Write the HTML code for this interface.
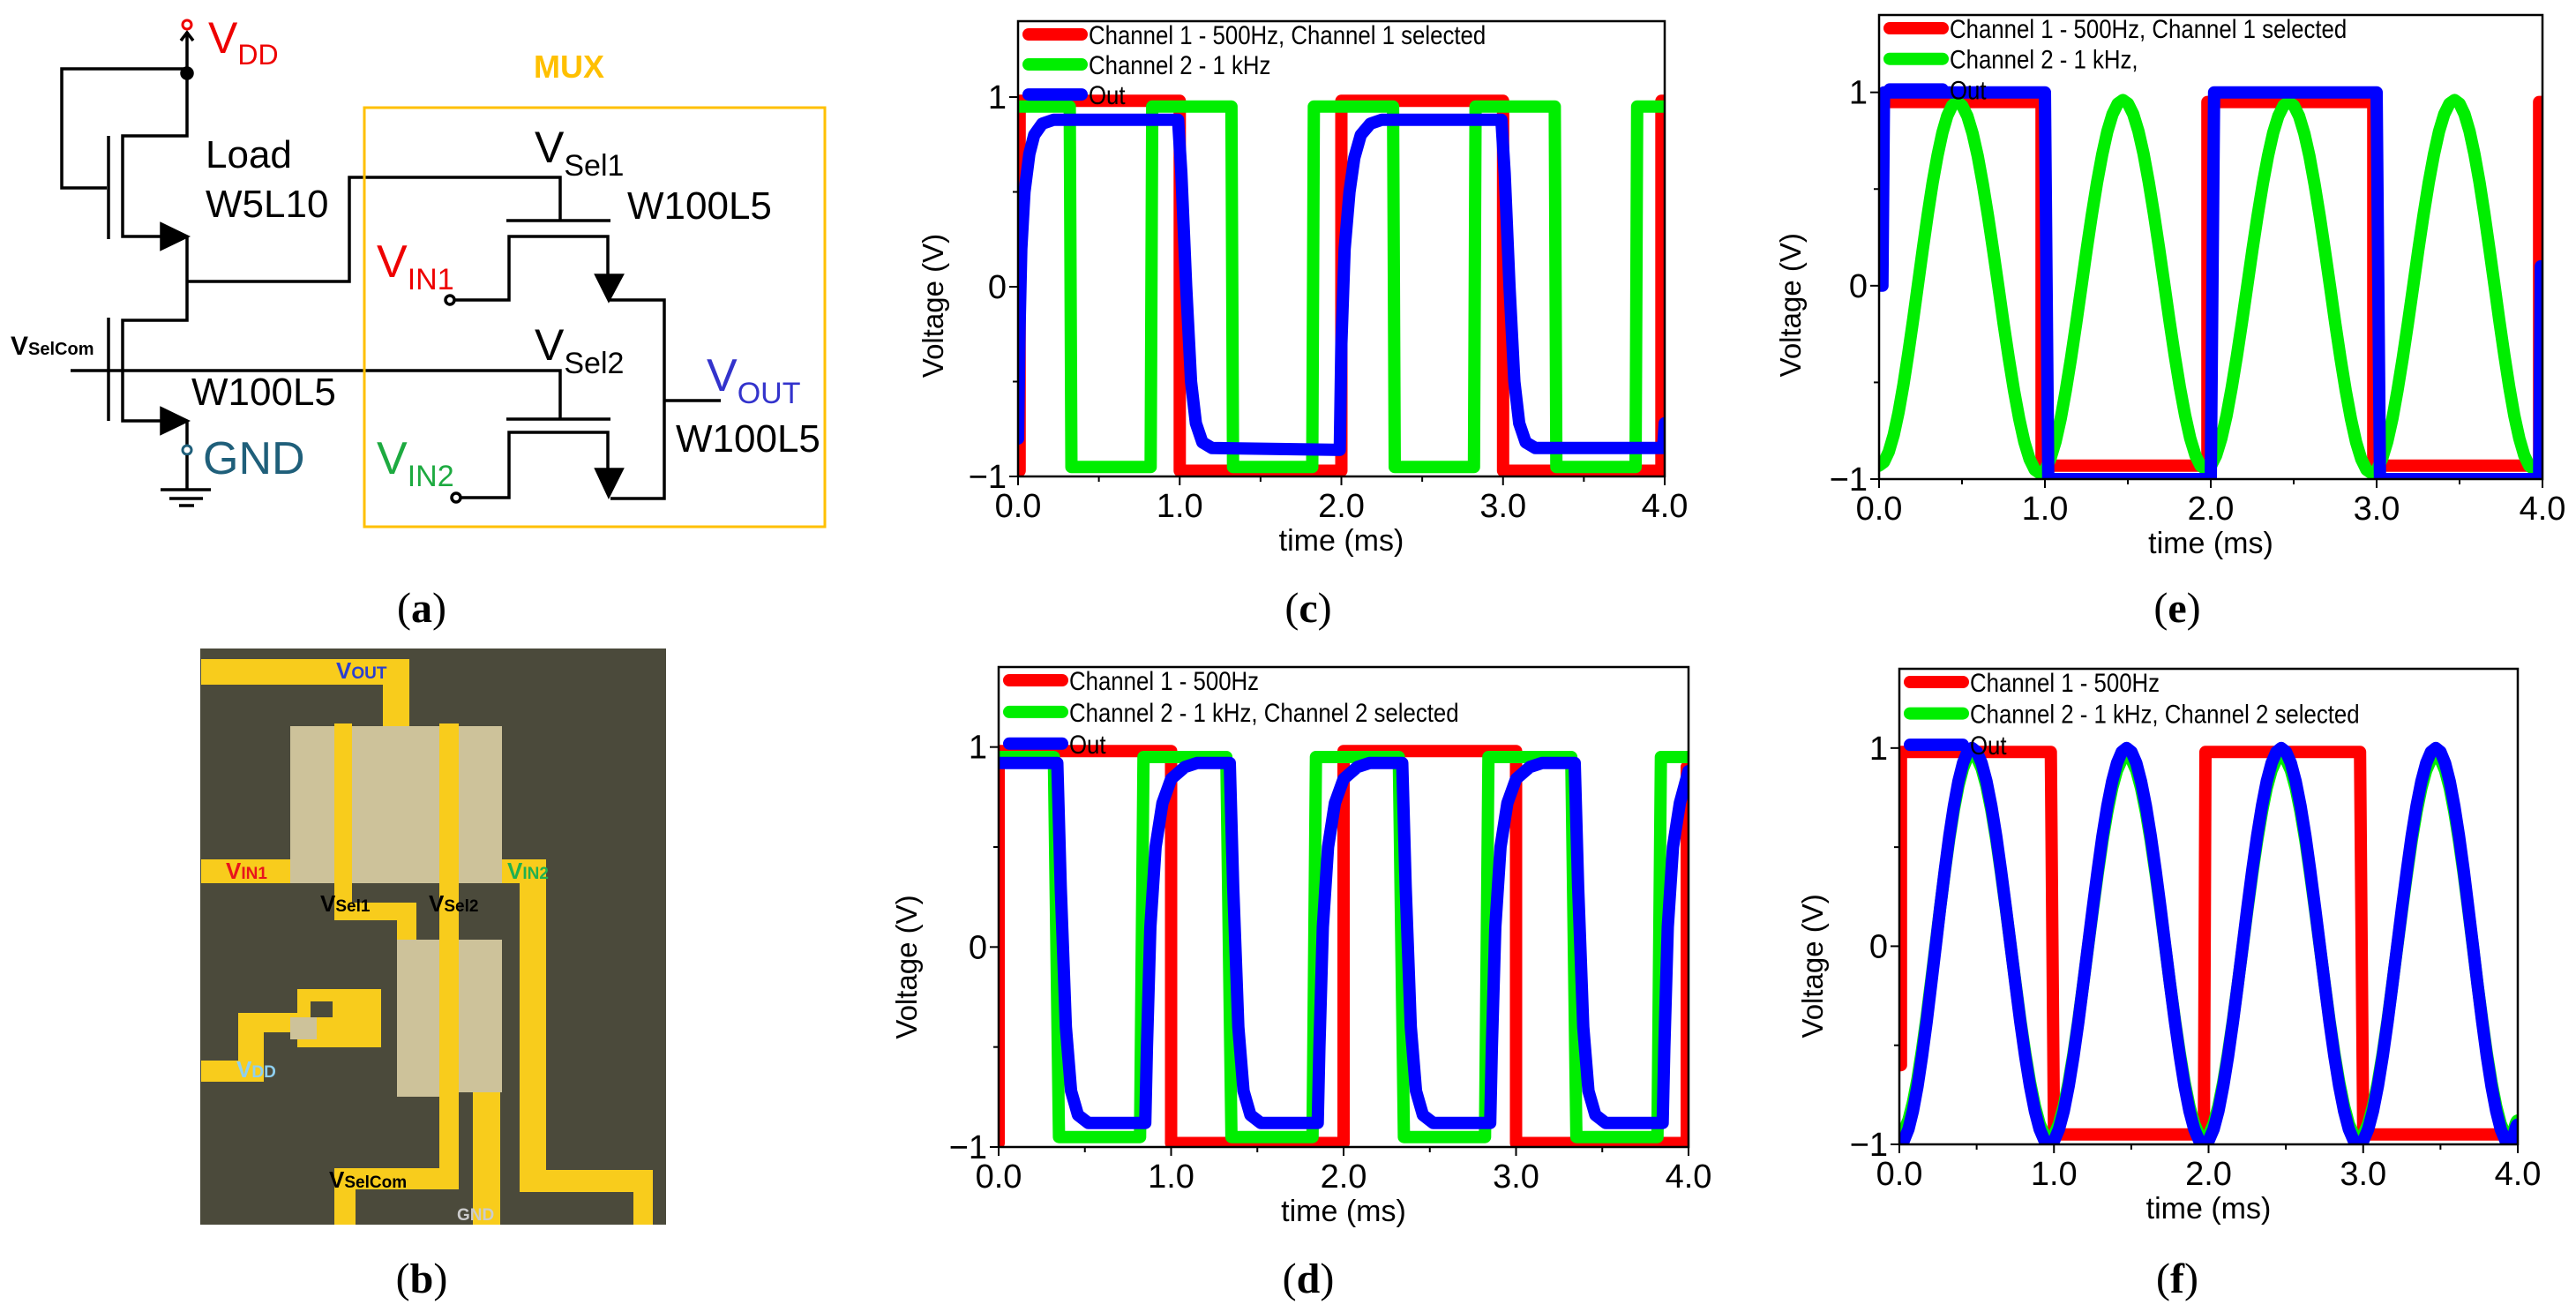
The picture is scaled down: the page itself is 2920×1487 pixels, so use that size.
<!DOCTYPE html>
<html><head><meta charset="utf-8"><style>
html,body{margin:0;padding:0;background:#fff;}
svg{display:block;font-family:"Liberation Sans",sans-serif;}
</style></head><body>
<svg id="fig" width="2920" height="1487" viewBox="0 0 2920 1487" xmlns="http://www.w3.org/2000/svg">
<rect width="2920" height="1487" fill="#fff"/>
<g id="schem" stroke="#000" stroke-width="3.5" fill="none">
  <polyline points="212,83 212,36"/>
  <polyline points="205,46 212,37 219,46"/>
  <circle cx="212" cy="28" r="5" stroke="#e00" stroke-width="3" fill="#fff"/>
  <circle cx="212" cy="83" r="6" fill="#000"/>
  <polyline points="212,78 70,78 70,213 121,213"/>
  <line x1="123" y1="154" x2="123" y2="271"/>
  <polyline points="212,83 212,154 139,154 139,268 190,268"/>
  <polygon points="183,254 212,268 183,282" fill="#000"/>
  <polyline points="212,268 212,363 139,363 139,477 190,477"/>
  <polyline points="212,319 396,319 396,201 635,201 635,250"/>
  <line x1="123" y1="360" x2="123" y2="477"/>
  <polyline points="80,420 635,420 635,475"/>
  <polygon points="183,463 212,477 183,491" fill="#000"/>
  <polyline points="212,477 212,505"/>
  <circle cx="212" cy="510" r="5" stroke="#1f5f7a" stroke-width="3" fill="#fff"/>
  <line x1="212" y1="516" x2="212" y2="555"/>
  <line x1="182" y1="555" x2="239" y2="555"/>
  <line x1="192" y1="565" x2="230" y2="565"/>
  <line x1="203" y1="573" x2="220" y2="573"/>
  <line x1="574" y1="250" x2="692" y2="250"/>
  <polyline points="510,340 577,340 577,268 689,268 689,315"/>
  <polygon points="676,312 705,312 690,340" fill="#000"/>
  <polyline points="690,340 753,340 753,565 692,565"/>
  <line x1="753" y1="454" x2="817" y2="454"/>
  <line x1="574" y1="475" x2="692" y2="475"/>
  <polyline points="517,564 577,564 577,490 689,490 689,535"/>
  <polygon points="676,532 705,532 690,562" fill="#000"/>
  <circle cx="510" cy="340" r="5" fill="#fff"/>
  <circle cx="517" cy="564" r="5" fill="#fff"/>
  <rect x="413" y="122" width="522" height="475" stroke="#ffc000" stroke-width="3"/>
</g>
<g font-family="Liberation Sans, sans-serif">
  <text x="236" y="60" font-size="50" fill="#e00">V<tspan font-size="32" dy="13">DD</tspan></text>
  <text x="605" y="88" font-size="36" font-weight="bold" fill="#ffc000">MUX</text>
  <text x="233" y="190" font-size="44">Load</text>
  <text x="233" y="246" font-size="44">W5L10</text>
  <text x="217" y="459" font-size="44">W100L5</text>
  <text x="12" y="402" font-size="30" font-weight="bold">V<tspan font-size="20">SelCom</tspan></text>
  <text x="606" y="184" font-size="50">V<tspan font-size="34" dy="15">Sel1</tspan></text>
  <text x="711" y="248" font-size="44">W100L5</text>
  <text x="427" y="314" font-size="52" fill="#e00">V<tspan font-size="34" dy="14">IN1</tspan></text>
  <text x="606" y="408" font-size="50">V<tspan font-size="34" dy="15">Sel2</tspan></text>
  <text x="801" y="443" font-size="52" fill="#3333cc">V<tspan font-size="34" dy="14">OUT</tspan></text>
  <text x="766" y="512" font-size="44">W100L5</text>
  <text x="427" y="537" font-size="52" fill="#1daa40">V<tspan font-size="34" dy="14">IN2</tspan></text>
  <text x="230" y="537" font-size="52" fill="#1f5f7a">GND</text>
</g>
<g>
  <rect x="227" y="735" width="528" height="653" fill="#4b4a3b"/>
  <g fill="#f8cc1c">
    <rect x="228" y="747" width="236" height="29"/>
    <rect x="434" y="747" width="30" height="80"/>
    <rect x="228" y="974" width="105" height="27"/>
    <rect x="567" y="974" width="52" height="27"/>
    <rect x="589" y="974" width="30" height="372"/>
    <rect x="589" y="1326" width="151" height="25"/>
    <rect x="718" y="1326" width="22" height="62"/>
    <rect x="379" y="820" width="20" height="218"/>
    <rect x="379" y="1023" width="93" height="20"/>
    <rect x="450" y="1023" width="22" height="49"/>
    <rect x="498" y="820" width="22" height="526"/>
    <rect x="379" y="1324" width="141" height="24"/>
    <rect x="379" y="1324" width="24" height="64"/>
    <rect x="536" y="1238" width="31" height="150"/>
    <rect x="228" y="1202" width="71" height="24"/>
    <rect x="270" y="1148" width="29" height="78"/>
    <rect x="270" y="1148" width="91" height="22"/>
    <rect x="337" y="1121" width="95" height="66"/>
  </g>
  <rect x="352" y="1135" width="25" height="18" fill="#4b4a3b"/>
  <g fill="#cdc29a">
    <rect x="329" y="823" width="50" height="178"/>
    <rect x="399" y="823" width="99" height="178"/>
    <rect x="520" y="823" width="49" height="178"/>
    <rect x="450" y="1065" width="48" height="178"/>
    <rect x="520" y="1065" width="49" height="173"/>
    <rect x="329" y="1153" width="30" height="25"/>
  </g>
  <g fill="#f8cc1c"><rect x="379" y="823" width="20" height="178"/><rect x="498" y="823" width="22" height="420"/></g>
  <g font-weight="bold" font-family="Liberation Sans, sans-serif">
    <text x="381" y="769" font-size="26" fill="#2a3fd0">V<tspan font-size="19">OUT</tspan></text>
    <text x="256" y="996" font-size="26" fill="#e8141c">V<tspan font-size="19">IN1</tspan></text>
    <text x="575" y="996" font-size="26" fill="#20b050">V<tspan font-size="19">IN2</tspan></text>
    <text x="363" y="1033" font-size="26" fill="#000">V<tspan font-size="19">Sel1</tspan></text>
    <text x="486" y="1033" font-size="26" fill="#000">V<tspan font-size="19">Sel2</tspan></text>
    <text x="268" y="1221" font-size="26" fill="#8fd0f0">V<tspan font-size="19">DD</tspan></text>
    <text x="373" y="1346" font-size="26" fill="#000">V<tspan font-size="19">SelCom</tspan></text>
    <text x="518" y="1383" font-size="19" fill="#ccc">GND</text>
  </g>
</g>
<g font-family="Liberation Serif, serif" font-size="48" text-anchor="middle" dominant-baseline="central">
  <text x="478" y="689">(<tspan font-weight="bold">a</tspan>)</text>
  <text x="478" y="1449">(<tspan font-weight="bold">b</tspan>)</text>
  <text x="1483" y="689">(<tspan font-weight="bold">c</tspan>)</text>
  <text x="1483" y="1449">(<tspan font-weight="bold">d</tspan>)</text>
  <text x="2468" y="689">(<tspan font-weight="bold">e</tspan>)</text>
  <text x="2468" y="1449">(<tspan font-weight="bold">f</tspan>)</text>
</g>
<g id="charts"></g>
</svg>
<script>
const xTicks=[0,1,2,3,4];
const xTickLabels=['0.0','1.0','2.0','3.0','4.0'];
const xMinor=[0.5,1.5,2.5,3.5];
const yTicks=[-1,0,1];
const yTickLabels=['\u22121','0','1'];
const yMinor=[-0.5,0.5];

const c_ch1_t=[0,0.01,0.01,1.0,1.0,2.0,2.0,3.0,3.0,3.98,3.98,4.0];
const c_ch1_v=[-0.97,-0.97,0.98,0.98,-0.97,-0.97,0.98,0.98,-0.97,-0.97,0.98,0.98];
const c_ch2_t=[0,0.32,0.33,0.82,0.83,1.32,1.33,1.82,1.83,2.32,2.33,2.82,2.83,3.32,3.33,3.82,3.83,4.0];
const c_ch2_v=[0.95,0.95,-0.95,-0.95,0.95,0.95,-0.95,-0.95,0.95,0.95,-0.95,-0.95,0.95,0.95,-0.95,-0.95,0.95,0.95];
const c_out_t=[0,0.01,0.02,0.04,0.07,0.1,0.15,0.22,0.99,1.01,1.04,1.07,1.1,1.14,1.2,1.99,2.0,2.02,2.05,2.08,2.12,2.18,2.25,2.99,3.01,3.04,3.07,3.1,3.14,3.2,3.99,4.0];
const c_out_v=[-0.8,-0.2,0.2,0.5,0.7,0.8,0.86,0.88,0.88,0.6,0.0,-0.5,-0.72,-0.82,-0.85,-0.86,-0.3,0.2,0.5,0.68,0.8,0.86,0.88,0.88,0.6,0.0,-0.5,-0.72,-0.82,-0.85,-0.85,-0.72];
const d_ch1_t=[0,0,1,1,2,2,3,3,3.99,3.99,4.0];
const d_ch1_v=[-0.98,0.98,0.98,-0.98,-0.98,0.98,0.98,-0.98,-0.98,0.9,0.9];
const d_ch2_t=[0,0.32,0.35,0.82,0.84,1.32,1.35,1.82,1.84,2.32,2.35,2.82,2.84,3.32,3.35,3.82,3.84,4.0];
const d_ch2_v=[0.95,0.95,-0.95,-0.95,0.95,0.95,-0.95,-0.95,0.95,0.95,-0.95,-0.95,0.95,0.95,-0.95,-0.95,0.95,0.95];
const d_out_t=[0,0.34,0.36,0.39,0.42,0.46,0.52,0.85,0.86,0.88,0.91,0.95,1.0,1.08,1.15,
 1.34,1.36,1.39,1.42,1.46,1.52,1.85,1.86,1.88,1.91,1.95,2.0,2.08,2.15,
 2.34,2.36,2.39,2.42,2.46,2.52,2.85,2.86,2.88,2.91,2.95,3.0,3.08,3.15,
 3.34,3.36,3.39,3.42,3.46,3.52,3.85,3.86,3.88,3.91,3.95,4.0];
const d_out_v=[0.92,0.92,0.3,-0.4,-0.72,-0.84,-0.88,-0.88,-0.5,0.1,0.5,0.72,0.84,0.9,0.92,
 0.92,0.3,-0.4,-0.72,-0.84,-0.88,-0.88,-0.5,0.1,0.5,0.72,0.84,0.9,0.92,
 0.92,0.3,-0.4,-0.72,-0.84,-0.88,-0.88,-0.5,0.1,0.5,0.72,0.84,0.9,0.92,
 0.92,0.3,-0.4,-0.72,-0.84,-0.88,-0.88,-0.5,0.1,0.5,0.72,0.88];
const e_ch1_t=[0,0.02,0.02,0.98,0.98,1.98,1.98,2.98,2.98,3.98,3.98,4.0];
const e_ch1_v=[0.95,0.95,0.95,0.95,-0.93,-0.93,0.95,0.95,-0.93,-0.93,0.95,0.95];
const e_ch2_t=[0,0.47,0.97,1.47,1.97,2.47,2.97,3.47,3.95,4.0];
const e_ch2_v=[-0.93,0.95,-0.97,0.96,-0.95,0.95,-0.97,0.96,-0.95,-0.92];
const e_out_t=[0,0.02,0.03,1.0,1.02,2.0,2.02,3.0,3.02,3.98,3.99,4.0];
const e_out_v=[0,0,1.0,1.0,-1.0,-1.0,1.0,1.0,-1.0,-1.0,0.1,0.1];
const f_ch1_t=[0,0.01,0.01,0.98,1.0,1.97,1.98,2.98,3.0,4.0];
const f_ch1_v=[-0.6,-0.6,0.98,0.98,-0.95,-0.95,0.98,0.98,-0.95,-0.95];
const f_ch2_t=[0,0.47,0.97,1.47,1.97,2.47,2.97,3.47,3.95,4.0];
const f_ch2_v=[-0.95,0.97,-0.97,0.96,-0.97,0.96,-0.97,0.96,-0.97,-0.88];
const f_out_t=[0,0.47,0.97,1.47,1.97,2.47,2.97,3.47,3.95,4.0];
const f_out_v=[-1.0,1.0,-1.0,1.0,-1.0,1.0,-1.0,1.0,-1.0,-0.9];

const NS='http://www.w3.org/2000/svg';
const root=document.getElementById('charts');
function el(tag,parent){const e=document.createElementNS(NS,tag);parent.appendChild(e);return e;}

const panels=[
 {id:'c',L:1154,R:1887,T:24,B:540,xt:1058,
  series:[{t:c_ch1_t,v:c_ch1_v,c:'#ff0000',smooth:false,n:'channel-1-trace'},{t:c_ch2_t,v:c_ch2_v,c:'#00ee00',smooth:false,n:'channel-2-trace'},{t:c_out_t,v:c_out_v,c:'#0000ff',smooth:false,n:'out-trace'}],
  legend:['Channel 1 - 500Hz, Channel 1 selected','Channel 2 - 1 kHz','Out']},
 {id:'d',L:1132,R:1914,T:756,B:1300,xt:1028,
  series:[{t:d_ch1_t,v:d_ch1_v,c:'#ff0000',smooth:false,n:'channel-1-trace'},{t:d_ch2_t,v:d_ch2_v,c:'#00ee00',smooth:false,n:'channel-2-trace'},{t:d_out_t,v:d_out_v,c:'#0000ff',smooth:false,n:'out-trace'}],
  legend:['Channel 1 - 500Hz','Channel 2 - 1 kHz, Channel 2 selected','Out']},
 {id:'e',L:2130,R:2882,T:17,B:543,xt:2030,
  series:[{t:e_ch1_t,v:e_ch1_v,c:'#ff0000',smooth:false,n:'channel-1-trace'},{t:e_ch2_t,v:e_ch2_v,c:'#00ee00',smooth:true,n:'channel-2-trace'},{t:e_out_t,v:e_out_v,c:'#0000ff',smooth:false,n:'out-trace'}],
  legend:['Channel 1 - 500Hz, Channel 1 selected','Channel 2 - 1 kHz,','Out']},
 {id:'f',L:2153,R:2854,T:758,B:1297,xt:2055,
  series:[{t:f_ch1_t,v:f_ch1_v,c:'#ff0000',smooth:false,n:'channel-1-trace'},{t:f_ch2_t,v:f_ch2_v,c:'#00ee00',smooth:true,n:'channel-2-trace'},{t:f_out_t,v:f_out_v,c:'#0000ff',smooth:true,n:'out-trace'}],
  legend:['Channel 1 - 500Hz','Channel 2 - 1 kHz, Channel 2 selected','Out']}
];

panels.forEach(p=>{
  const xs=t=>p.L+(t-0)/(4-0)*(p.R-p.L);
  const ys=v=>p.B-(v-(-1))/(1.4-(-1))*(p.B-p.T);
  const g=el('g',root);
  
  
  const cp=el('clipPath',g); cp.setAttribute('id','clip-'+p.id);
  const cr=el('rect',cp); cr.setAttribute('x',p.L);cr.setAttribute('y',p.T);cr.setAttribute('width',p.R-p.L);cr.setAttribute('height',p.B-p.T);
  const sg=el('g',g); sg.setAttribute('clip-path','url(#clip-'+p.id+')');
  
  
  p.series.forEach(s=>{
    const pts=[];
    for(let i=0;i<s.t.length;i++){
      if(s.smooth && i>0){
        const t0=s.t[i-1],t1=s.t[i],v0=s.v[i-1],v1=s.v[i];
        for(let k=1;k<=16;k++){const f=k/16;const w=(1-Math.cos(Math.PI*f))/2;pts.push(xs(t0+(t1-t0)*f).toFixed(1)+','+ys(v0+(v1-v0)*w).toFixed(1));}
      } else pts.push(xs(s.t[i]).toFixed(1)+','+ys(s.v[i]).toFixed(1));
    }
    const pl=el('polyline',sg);
    
    
    pl.setAttribute('points',pts.join(' '));
    pl.setAttribute('fill','none');pl.setAttribute('stroke',s.c);pl.setAttribute('stroke-width','14');
    pl.setAttribute('stroke-linejoin','round');pl.setAttribute('stroke-linecap','round');
  });
  const H=p.B-p.T;
  p.legend.forEach((txt,i)=>{
    const cy=p.T+15+i*0.066*H;
    const ln=el('line',g);
    
    
    ln.setAttribute('x1',p.L+12);ln.setAttribute('x2',p.L+72);ln.setAttribute('y1',cy);ln.setAttribute('y2',cy);
    ln.setAttribute('stroke',p.series[i].c);ln.setAttribute('stroke-width','14');ln.setAttribute('stroke-linecap','round');
    const tx=el('text',g);
    
    
    tx.setAttribute('x',0);tx.setAttribute('y',0);
    tx.setAttribute('transform','translate('+(p.L+80)+','+(cy+11)+') scale(0.86,1)');
    tx.setAttribute('font-size','30');tx.textContent=txt;
  });
  const fr=el('rect',g);
  
  
  fr.setAttribute('x',p.L);fr.setAttribute('y',p.T);fr.setAttribute('width',p.R-p.L);fr.setAttribute('height',p.B-p.T);
  fr.setAttribute('fill','none');fr.setAttribute('stroke','#000');fr.setAttribute('stroke-width','2.5');
  xTicks.forEach((t,i)=>{
    const tk=el('line',g);
    
    
    tk.setAttribute('x1',xs(t));tk.setAttribute('x2',xs(t));tk.setAttribute('y1',p.B);tk.setAttribute('y2',p.B+10);tk.setAttribute('stroke','#000');tk.setAttribute('stroke-width','2');
    const lb=el('text',g);
    
    
    lb.setAttribute('x',xs(t));lb.setAttribute('y',p.B+46);lb.setAttribute('text-anchor','middle');lb.setAttribute('font-size','38');
    lb.textContent=xTickLabels[i];
  });
  xMinor.forEach(t=>{
    const tk=el('line',g);
    
    
    tk.setAttribute('x1',xs(t));tk.setAttribute('x2',xs(t));tk.setAttribute('y1',p.B);tk.setAttribute('y2',p.B+6);tk.setAttribute('stroke','#000');tk.setAttribute('stroke-width','2');
  });
  yTicks.forEach((v,i)=>{
    const tk=el('line',g);
    
    
    tk.setAttribute('x1',p.L-10);tk.setAttribute('x2',p.L);tk.setAttribute('y1',ys(v));tk.setAttribute('y2',ys(v));tk.setAttribute('stroke','#000');tk.setAttribute('stroke-width','2');
    const lb=el('text',g);
    
    
    lb.setAttribute('x',p.L-13);lb.setAttribute('y',ys(v)+13);lb.setAttribute('text-anchor','end');lb.setAttribute('font-size','38');
    lb.textContent=yTickLabels[i];
  });
  yMinor.forEach(v=>{
    const tk=el('line',g);
    
    
    tk.setAttribute('x1',p.L-6);tk.setAttribute('x2',p.L);tk.setAttribute('y1',ys(v));tk.setAttribute('y2',ys(v));tk.setAttribute('stroke','#000');tk.setAttribute('stroke-width','2');
  });
  const yt=el('text',g);
  
  
  const yc=ys(-0.1);
  yt.setAttribute('transform','translate('+(p.xt+11)+','+yc+') rotate(-90)');
  yt.setAttribute('text-anchor','middle');yt.setAttribute('font-size','33');yt.textContent='Voltage (V)';
  const xtl=el('text',g);
  
  
  xtl.setAttribute('x',(p.L+p.R)/2);xtl.setAttribute('y',p.B+84);xtl.setAttribute('text-anchor','middle');xtl.setAttribute('font-size','34');
  xtl.textContent='time (ms)';
});
</script>
</body></html>
